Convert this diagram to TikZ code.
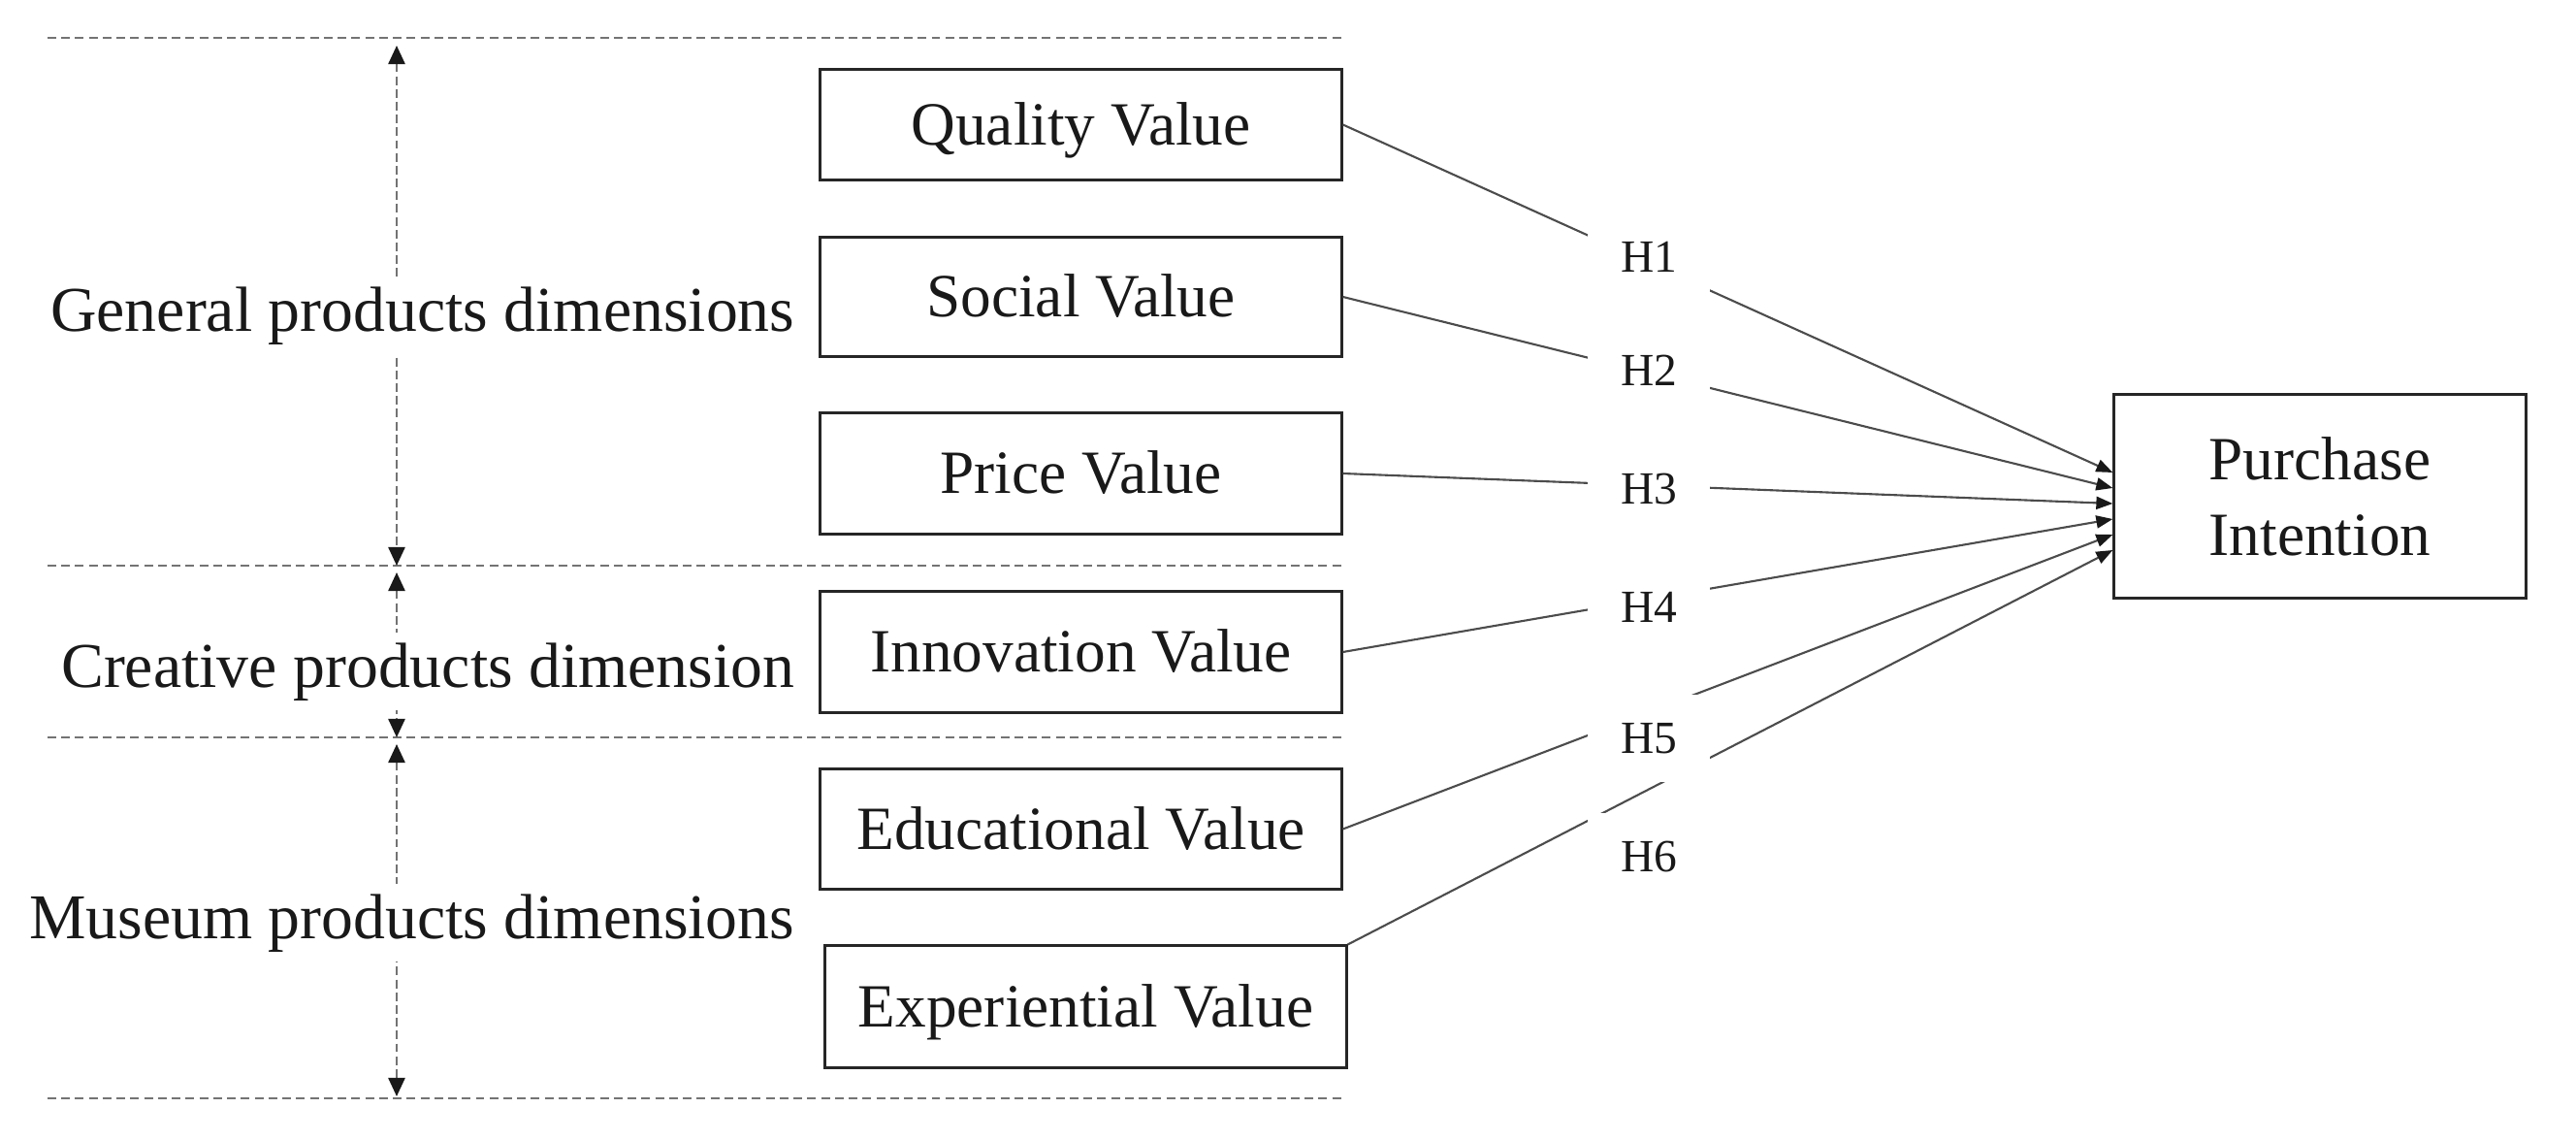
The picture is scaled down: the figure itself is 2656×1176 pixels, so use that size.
\documentclass[tikz,border=0pt]{standalone}
\usepackage{fontspec}
\setmainfont{Liberation Serif}
\usetikzlibrary{arrows.meta,calc}
\begin{document}
\begin{tikzpicture}[x=0.01cm,y=-0.01cm,
  valbox/.style={draw=black!85, line width=0.85pt, minimum width=5.37cm, inner sep=0pt,
    font=\fontsize{18}{22.1}\selectfont, text=black!90},
  onebox/.style={valbox, text height=11.9pt, text depth=0pt},
  grp/.style={anchor=base east, fill=white, inner xsep=0pt, inner ysep=0.1cm,
    font=\fontsize{18.7}{22}\selectfont, text=black!90},
  hyp/.style={fill=white, minimum width=1.25cm, minimum height=0.9cm, inner sep=0pt,
    font=\fontsize{13.5}{16}\selectfont, text=black!90},
  sepline/.style={draw=black!55, line width=0.8pt, dash pattern=on 2.55pt off 1.5pt},
  dimarrow/.style={draw=black!55, line width=0.7pt, dash pattern=on 2.55pt off 1.2pt,
    {Triangle[length=0.19cm,width=0.17cm,black!90]}-{Triangle[length=0.19cm,width=0.17cm,black!90]}},
  link/.style={draw=black!70, line width=0.6pt, -{Triangle[length=0.17cm,width=0.13cm,black!90]}}
]
\useasboundingbox (0,0) rectangle (2656,1176);

% separators
\coordinate (s0l) at (49,39);   \coordinate (s0r) at (1383,39);
\coordinate (s1l) at (49,583);  \coordinate (s1r) at (1383,583);
\coordinate (s2l) at (49,760);  \coordinate (s2r) at (1383,760);
\coordinate (s3l) at (49,1132); \coordinate (s3r) at (1383,1132);
\draw[sepline] (s0l) -- (s0r);
\draw[sepline] (s1l) -- (s1r);
\draw[sepline] (s2l) -- (s2r);
\draw[sepline] (s3l) -- (s3r);

% dimension arrows
\coordinate (a1) at (409,47);  \coordinate (b1) at (409,583);
\coordinate (a2) at (409,590); \coordinate (b2) at (409,760);
\coordinate (a3) at (409,767); \coordinate (b3) at (409,1130);
\draw[dimarrow] (a1) -- (b1);
\draw[dimarrow] (a2) -- (b2);
\draw[dimarrow] (a3) -- (b3);

\node[grp] (G1) at (820,341) {General products dimensions};
\node[grp] (G2) at (820,708) {Creative products dimension};
\node[grp] (G3) at (820,967) {Museum products dimensions};

% value boxes
\node[onebox, minimum height=1.14cm] (QV) at (1114.5,128.5) {Quality Value};
\node[onebox, minimum height=1.22cm] (SV) at (1114.5,306) {Social Value};
\node[onebox, minimum height=1.24cm] (PV) at (1114.5,488) {Price Value};
\node[onebox, minimum height=1.24cm] (IV) at (1114.5,672) {Innovation Value};
\node[onebox, minimum height=1.23cm] (EdV) at (1114.5,854.5) {Educational Value};
\node[onebox, minimum height=1.25cm] (ExV) at (1119.5,1037.5) {Experiential Value};

\node[valbox, minimum width=4.24cm, minimum height=2.09cm, align=center] (PI) at (2392,511.5) {Purchase\\Intention};

% arrow tip points
\coordinate (t1) at ($(PI.west)+(0,-24.5)$);
\coordinate (t2) at ($(PI.west)+(0,-8.5)$);
\coordinate (t3) at ($(PI.west)+(0,7.5)$);
\coordinate (t4) at ($(PI.west)+(0,23.5)$);
\coordinate (t5) at ($(PI.west)+(0,39.5)$);
\coordinate (t6) at ($(PI.west)+(0,55.5)$);

\draw[link] (QV.east) -- (t1);
\draw[link] (SV.east) -- (t2);
\draw[link] (PV.east) -- (t3);
\draw[link] (IV.east) -- (t4);
\draw[link] (EdV.east) -- (t5);
\draw[link] (ExV.north east) -- (t6);

% hypothesis labels
\node[hyp] (H1) at (1700,265) {H1};
\node[hyp] (H2) at (1700,382) {H2};
\node[hyp] (H3) at (1700,504) {H3};
\node[hyp] (H4) at (1700,626) {H4};
\node[hyp] (H5) at (1700,761) {H5};
\node[hyp] (H6) at (1700,883) {H6};
\end{tikzpicture}
\end{document}
